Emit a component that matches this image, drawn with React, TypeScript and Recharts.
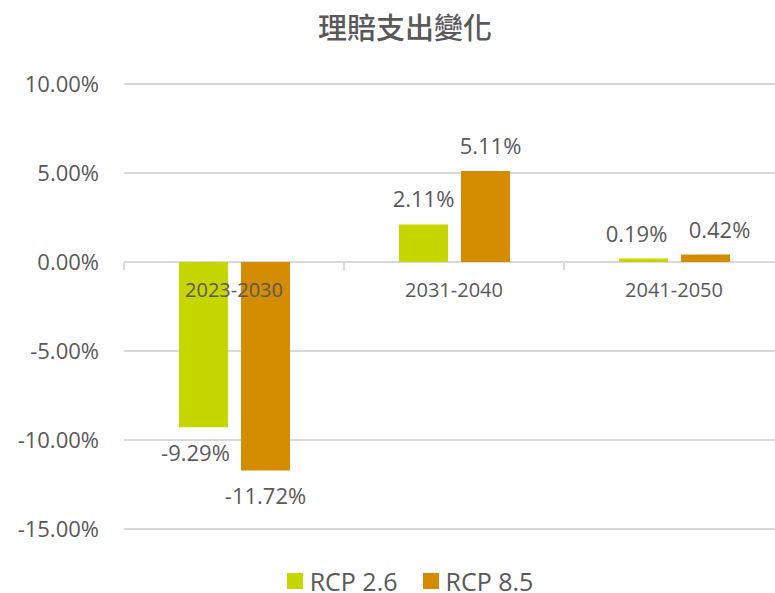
import React from 'react';
import { BarChart, Bar, XAxis, YAxis, CartesianGrid, LabelList, Legend } from 'recharts';

const categories = ['2023-2030', '2031-2040', '2041-2050'];
const rcp26 = [-9.29, 2.11, 0.19];
const rcp85 = [-11.72, 5.11, 0.42];
const yTicks = [-15, -10, -5, 0, 5, 10];
const seriesNames = ['RCP 2.6', 'RCP 8.5'];
const colors = ['#C5D600', '#D48C00'];

const data = categories.map((c, i) => ({ name: c, rcp26: rcp26[i], rcp85: rcp85[i] }));

// label nudges (style only), as in the reference where labels avoid overlapping
const labelDx26 = [-8, 0, -7];
const labelDx85 = [0, 5, 14];

const W = 775;
const H = 593;
const TOP = 84;
const RIGHT = -9;
const YAXIS_W = 124;
const XAXIS_H = 30;
const BOTTOM = 34;
const YMIN = -15;
const YMAX = 10;
const plotH = H - TOP - BOTTOM - XAXIS_H;
const plotW = W - YAXIS_W - RIGHT;
const band = plotW / categories.length;
const zeroY = TOP + (plotH * (YMAX - 0)) / (YMAX - YMIN);

const TEXT = '#595959';
const FONT = '"Open Sans", "Noto Sans", sans-serif';

const fmt = (v: any) => `${Number(v).toFixed(2)}%`;

const CatTick = (props: any) => {
  const { x, payload, index } = props;
  return (
    <g>
      <line x1={x - band / 2} x2={x - band / 2} y1={zeroY} y2={zeroY + 8} stroke="#d9d9d9" strokeWidth={2} />
      {index === categories.length - 1 && (
        <line x1={x + band / 2} x2={x + band / 2} y1={zeroY} y2={zeroY + 8} stroke="#d9d9d9" strokeWidth={2} />
      )}
      <text x={x} y={zeroY + 35} textAnchor="middle" fontSize={20} fill={TEXT} fontFamily={FONT}>
        {payload.value}
      </text>
    </g>
  );
};

const makeValueLabel = (dxs: number[]) => (props: any) => {
  const { x, y, width, height, value, index } = props;
  const cx = Number(x) + Number(width) / 2 + (dxs[index] || 0);
  const neg = Number(value) < 0;
  const top = Number(y);
  const end = top + Number(height);
  const ty = neg ? Math.max(top, end) + 18 + 15.6 : Math.min(top, end) - 17;
  return (
    <text x={cx} y={ty} textAnchor="middle" fontSize={22} fill={TEXT} fontFamily={FONT}>
      {fmt(value)}
    </text>
  );
};

const Label26 = makeValueLabel(labelDx26);
const Label85 = makeValueLabel(labelDx85);

const LegendContent = (props: any) => {
  const payload = props.payload || [];
  return (
    <div style={{ display: 'flex', justifyContent: 'center', alignItems: 'center', height: 18 }}>
      {payload.map((p: any, i: number) => (
        <div key={i} style={{ display: 'flex', alignItems: 'center', marginRight: i === payload.length - 1 ? 0 : 25 }}>
          <span style={{ width: 16, height: 16, background: p.color, display: 'inline-block', marginRight: 7 }} />
          <span style={{ fontSize: 25, color: TEXT, fontFamily: FONT, lineHeight: '18px' }}>{p.value}</span>
        </div>
      ))}
    </div>
  );
};

export default function App() {
  return (
    <div style={{ position: 'absolute', left: 0, top: 0, width: W, height: H, background: '#fff', overflow: 'hidden' }}>
      <div
        style={{
          position: 'absolute',
          top: 8,
          left: 0,
          width: 810,
          height: 36,
          lineHeight: '36px',
          textAlign: 'center',
          fontSize: 29,
          fontWeight: 500,
          color: TEXT,
          fontFamily: '"Noto Sans CJK TC", "Noto Sans CJK SC", sans-serif',
        }}
      >
        理賠支出變化
      </div>
      <BarChart
        width={W}
        height={H}
        data={data}
        margin={{ top: TOP, right: RIGHT, left: 0, bottom: BOTTOM }}
        barSize={49}
        barGap={13}
      >
        <CartesianGrid vertical={false} stroke="#d9d9d9" strokeWidth={2} />
        <YAxis
          type="number"
          domain={[YMIN, YMAX]}
          ticks={yTicks}
          width={YAXIS_W}
          axisLine={false}
          tickLine={false}
          tickSize={6}
          tickMargin={19}
          tickFormatter={fmt}
          tick={{ fontSize: 22, fill: TEXT, fontFamily: FONT }}
        />
        <Bar dataKey="rcp26" name={seriesNames[0]} fill={colors[0]} isAnimationActive={false}>
          <LabelList dataKey="rcp26" content={<Label26 />} />
        </Bar>
        <Bar dataKey="rcp85" name={seriesNames[1]} fill={colors[1]} isAnimationActive={false}>
          <LabelList dataKey="rcp85" content={<Label85 />} />
        </Bar>
        <XAxis
          dataKey="name"
          height={XAXIS_H}
          axisLine={false}
          tickLine={false}
          tick={<CatTick />}
          interval={0}
        />
        <Legend
          verticalAlign="middle"
          layout="horizontal"
          content={<LegendContent />}
          wrapperStyle={{ top: 572, left: 0, width: 820, height: 18 }}
        />
      </BarChart>
    </div>
  );
}
